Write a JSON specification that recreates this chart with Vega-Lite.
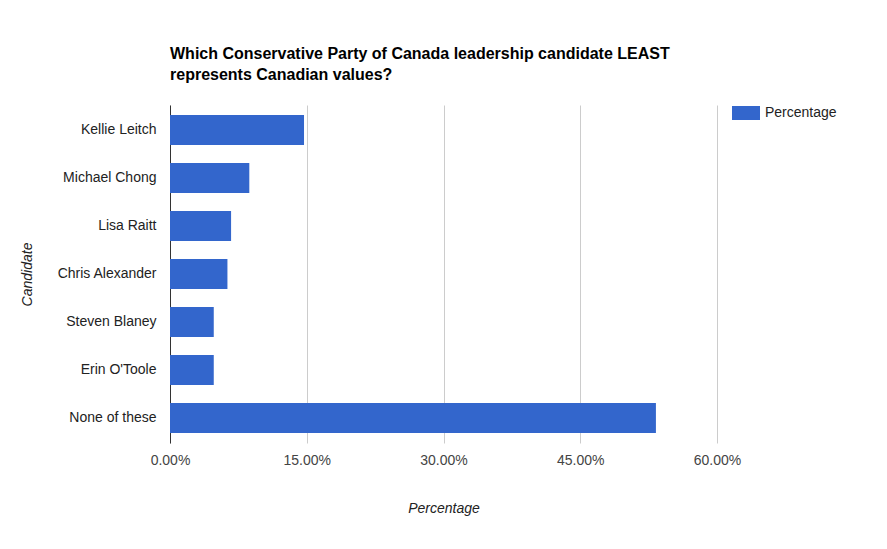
{
  "$schema": "https://vega.github.io/schema/vega-lite/v6.json",
  "autosize": "none",
  "width": 547,
  "height": 338,
  "padding": {"left": 170, "top": 105, "right": 170, "bottom": 106},
  "background": "white",
  "title": {
    "text": ["Which Conservative Party of Canada leadership candidate LEAST", "represents Canadian values?"],
    "anchor": "start",
    "frame": "group",
    "font": "Liberation Sans",
    "fontSize": 16,
    "fontWeight": "bold",
    "color": "#000000",
    "lineHeight": 21,
    "offset": 16
  },
  "data": {
    "values": [
      {"Candidate": "Kellie Leitch", "Percentage": 0.147},
      {"Candidate": "Michael Chong", "Percentage": 0.087},
      {"Candidate": "Lisa Raitt", "Percentage": 0.067},
      {"Candidate": "Chris Alexander", "Percentage": 0.063},
      {"Candidate": "Steven Blaney", "Percentage": 0.048},
      {"Candidate": "Erin O'Toole", "Percentage": 0.048},
      {"Candidate": "None of these", "Percentage": 0.533}
    ]
  },
  "mark": {"type": "bar"},
  "encoding": {
    "y": {
      "field": "Candidate",
      "type": "nominal",
      "sort": null,
      "scale": {"paddingInner": 0.375, "paddingOuter": 0.21},
      "axis": {
        "title": "Candidate",
        "titleFont": "Liberation Sans",
        "titleFontSize": 14,
        "titleFontStyle": "italic",
        "titleFontWeight": "normal",
        "titleColor": "#222222",
        "titlePadding": 22,
        "labelFont": "Liberation Sans",
        "labelFontSize": 14,
        "labelColor": "#222222",
        "labelPadding": 14,
        "ticks": false,
        "domainColor": "#333333",
        "domainWidth": 1
      }
    },
    "x": {
      "field": "Percentage",
      "type": "quantitative",
      "scale": {"domain": [0, 0.6], "nice": false},
      "axis": {
        "title": "Percentage",
        "values": [0, 0.15, 0.3, 0.45, 0.6],
        "format": ".2%",
        "titleFont": "Liberation Sans",
        "titleFontSize": 14,
        "titleFontStyle": "italic",
        "titleFontWeight": "normal",
        "titleColor": "#222222",
        "titlePadding": 34,
        "labelFont": "Liberation Sans",
        "labelFontSize": 14,
        "labelColor": "#444444",
        "labelPadding": 10,
        "labelAlign": "center",
        "labelFlush": false,
        "ticks": false,
        "domain": false,
        "grid": true,
        "gridColor": "#cccccc"
      }
    },
    "color": {
      "datum": "Percentage",
      "scale": {"range": ["#3366cc"]},
      "legend": {
        "title": null,
        "orient": "none",
        "legendX": 562,
        "legendY": -6,
        "symbolType": "M-1,-0.5H1V0.5H-1Z",
        "symbolSize": 784,
        "symbolStrokeWidth": 0,
        "symbolOpacity": 1,
        "labelFont": "Liberation Sans",
        "labelFontSize": 14,
        "labelColor": "#222222",
        "labelOffset": 5
      }
    }
  },
  "config": {"view": {"stroke": null}}
}
